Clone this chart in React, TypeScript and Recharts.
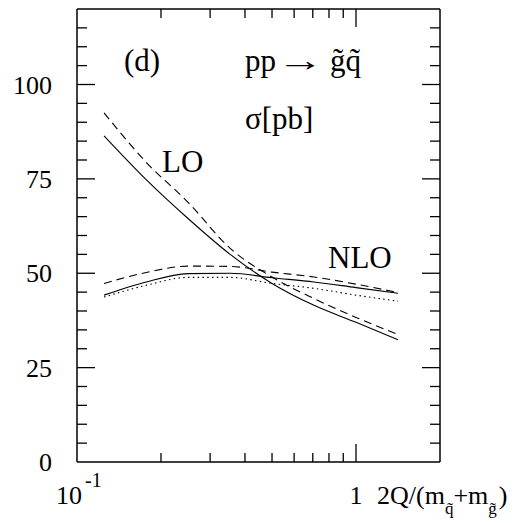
import React from 'react';
import { LineChart, Line, XAxis, YAxis } from 'recharts';

// 2Q/(m_q + m_g) scale ratio
const scaleRatio = [0.125, 0.177, 0.25, 0.354, 0.5, 0.707, 1, 1.414];
// cross sections sigma [pb]
const loSolid = [86.4, 74.8, 64.5, 55.0, 47.3, 41.5, 37.0, 32.4];
const loDashed = [92.5, 79.4, 68.8, 56.6, 49.0, 43.3, 38.3, 33.8];
const nloSolid = [44.2, 47.7, 49.9, 50.0, 48.8, 47.7, 46.2, 44.7];
const nloDashed = [47.3, 50.2, 51.9, 51.8, 50.3, 49.0, 47.1, 44.9];
const nloDotted = [43.7, 46.8, 48.9, 48.9, 47.3, 46.0, 44.2, 42.6];

const xTicks = [0.1, 0.2, 0.3, 0.4, 0.5, 0.6, 0.7, 0.8, 0.9, 1];
const yTicks = [0, 5, 10, 15, 20, 25, 30, 35, 40, 45, 50, 55, 60, 65, 70, 75, 80, 85, 90, 95, 100, 105, 110, 115];
const yMajor = [0, 25, 50, 75, 100];

const rows = scaleRatio.map((x, i) => ({
  x,
  loS: loSolid[i],
  loD: loDashed[i],
  nloS: nloSolid[i],
  nloD: nloDashed[i],
  nloDot: nloDotted[i],
}));

const FONT = "'Liberation Serif', 'Times New Roman', serif";
const TICK_W = 1.3;

const LeftTick = (props: any) => {
  const { x, y, payload } = props;
  const v = payload.value;
  const major = yMajor.includes(v);
  return (
    <g>
      {v > 0 && <line x1={x} y1={y} x2={x + (major ? 18 : 10)} y2={y} stroke="#000" strokeWidth={TICK_W} />}
      {major && (
        <text x={x - 25} y={y} dy="0.35em" textAnchor="end" fontSize={26} fontFamily={FONT} fill="#000">
          {v}
        </text>
      )}
    </g>
  );
};

const RightTick = (props: any) => {
  const { x, y, payload } = props;
  const v = payload.value;
  const major = yMajor.includes(v);
  if (v <= 0) return <g />;
  return <line x1={x} y1={y} x2={x - (major ? 18 : 10)} y2={y} stroke="#000" strokeWidth={TICK_W} />;
};

const BottomTick = (props: any) => {
  const { x, y, payload } = props;
  const v = payload.value;
  return (
    <g>
      {v > 0.1 && <line x1={x} y1={y} x2={x} y2={y - (v === 1 ? 18 : 9)} stroke="#000" strokeWidth={TICK_W} />}
      {v === 0.1 && (
        <g fontFamily={FONT} fill="#000">
          <text x={x - 21} y={y + 42} fontSize={26}>10</text>
          <text x={x + 8} y={y + 25} fontSize={20}>-1</text>
        </g>
      )}
      {v === 1 && (
        <text x={x} y={y + 42} textAnchor="middle" fontSize={26} fontFamily={FONT} fill="#000">
          1
        </text>
      )}
    </g>
  );
};

const TopTick = (props: any) => {
  const { x, y, payload } = props;
  const v = payload.value;
  if (v <= 0.1) return <g />;
  return <line x1={x} y1={y} x2={x} y2={y + (v === 1 ? 18 : 9)} stroke="#000" strokeWidth={TICK_W} />;
};

const AxisTitle = (props: any) => {
  const { viewBox } = props;
  const bx = viewBox.x + viewBox.width;
  const by = viewBox.y;
  return (
    <text x={bx - 63} y={by + 42} fontSize={26} fontFamily={FONT} fill="#000">
      2Q/(m
      <tspan fontSize={17} dy={10}>q̃</tspan>
      <tspan fontSize={26} dy={-10}>+m</tspan>
      <tspan fontSize={17} dy={10}>g̃</tspan>
      <tspan fontSize={26} dy={-10} dx={2}>)</tspan>
    </text>
  );
};

const axisLine = { stroke: '#000', strokeWidth: 1.5 };

export default function App() {
  return (
    <div style={{ position: 'absolute', left: 0, top: 0, width: 516, height: 523, background: '#fff' }}>
      <LineChart width={516} height={523} data={rows} margin={{ top: 0, right: 0, bottom: 0, left: 0 }}>
        <XAxis
          xAxisId="b"
          dataKey="x"
          type="number"
          scale="log"
          domain={[0.1, 2]}
          allowDataOverflow
          ticks={xTicks}
          interval={0}
          height={61}
          tickSize={0}
          tickMargin={0}
          tickLine={false}
          axisLine={axisLine}
          tick={<BottomTick />}
          label={<AxisTitle />}
        />
        <XAxis
          xAxisId="t"
          orientation="top"
          dataKey="x"
          type="number"
          scale="log"
          domain={[0.1, 2]}
          allowDataOverflow
          ticks={xTicks}
          interval={0}
          height={9}
          tickSize={0}
          tickMargin={0}
          tickLine={false}
          axisLine={axisLine}
          tick={<TopTick />}
        />
        <YAxis
          yAxisId="l"
          type="number"
          domain={[0, 120]}
          allowDataOverflow
          ticks={yTicks}
          interval={0}
          width={77}
          tickSize={0}
          tickMargin={0}
          tickLine={false}
          axisLine={axisLine}
          tick={<LeftTick />}
        />
        <YAxis
          yAxisId="r"
          orientation="right"
          type="number"
          domain={[0, 120]}
          allowDataOverflow
          ticks={yTicks}
          interval={0}
          width={76}
          tickSize={0}
          tickMargin={0}
          tickLine={false}
          axisLine={axisLine}
          tick={<RightTick />}
        />
        <Line xAxisId="b" yAxisId="l" type="monotone" dataKey="loS" stroke="#000" strokeWidth={1.1} dot={false} isAnimationActive={false} />
        <Line xAxisId="b" yAxisId="l" type="monotone" dataKey="loD" stroke="#000" strokeWidth={1.1} strokeDasharray="8 5" dot={false} isAnimationActive={false} />
        <Line xAxisId="b" yAxisId="l" type="monotone" dataKey="nloS" stroke="#000" strokeWidth={1.1} dot={false} isAnimationActive={false} />
        <Line xAxisId="b" yAxisId="l" type="monotone" dataKey="nloD" stroke="#000" strokeWidth={1.1} strokeDasharray="8 5" dot={false} isAnimationActive={false} />
        <Line xAxisId="b" yAxisId="l" type="monotone" dataKey="nloDot" stroke="#000" strokeWidth={1.1} strokeDasharray="1.5 3.3" dot={false} isAnimationActive={false} />
      </LineChart>
      <svg width={516} height={523} style={{ position: 'absolute', left: 0, top: 0, pointerEvents: 'none' }}>
        <g fontFamily={FONT} fill="#000" fontSize={31}>
          <text x={124} y={71}>(d)</text>
          <text x={245} y={71}>pp</text>
          <text x={277} y={71} textLength={47} lengthAdjust="spacingAndGlyphs">→</text>
          <text x={330} y={71}>g̃q̃</text>
          <text x={245} y={129}>σ[pb]</text>
          <text x={162} y={172}>LO</text>
          <text x={328} y={268}>NLO</text>
        </g>
      </svg>
    </div>
  );
}
